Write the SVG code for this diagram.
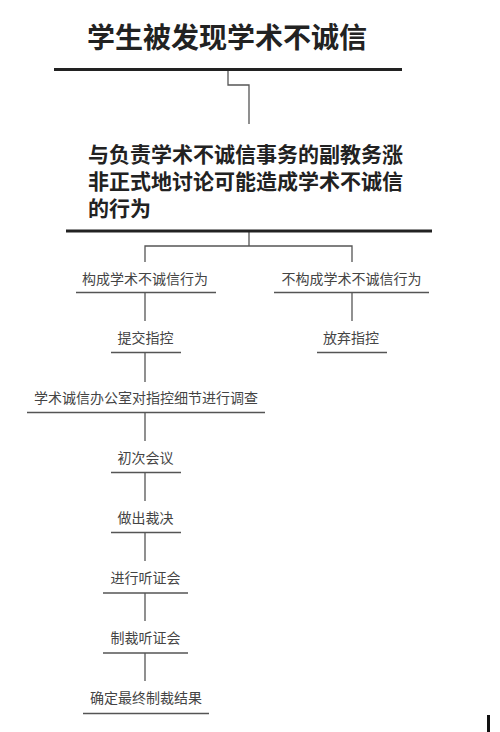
<svg xmlns="http://www.w3.org/2000/svg" width="500" height="732" viewBox="0 0 500 732">
<style>
text{font-family:"Noto Sans CJK SC","Noto Sans",sans-serif;dominant-baseline:central}
.big{font-size:28px;font-weight:bold;fill:#222}
.mid{font-size:21px;font-weight:bold;fill:#222}
.sm{font-size:14px;fill:#444;text-anchor:middle}
.bar{stroke:#222;stroke-width:3;fill:none}
.ul{stroke:#555;stroke-width:1.5;fill:none}
.c{stroke:#555;stroke-width:1.3;fill:none}
</style>
<rect width="500" height="732" fill="#fff"/>
<g id="connectors">
<path class="c" d="M228,70V85H249V124"/>
<path class="c" d="M249,231V246M145,262V246H352V262"/>
<path class="c" d="M352,293V321"/>
<path class="c" d="M145,293V321M145,353V382M145,413V441M145,473V501M145,533V561M145,593V621M145,653V681"/>
</g>
<g id="n0"><text class="big" x="87" y="36">学生被发现学术不诚信</text><line class="bar" x1="54" y1="69.5" x2="402" y2="69.5"/></g>
<g id="n1"><text class="mid"><tspan x="88" y="153">与负责学术不诚信事务的副教务涨</tspan><tspan x="88" y="180">非正式地讨论可能造成学术不诚信</tspan><tspan x="88" y="207">的行为</tspan></text><line class="bar" x1="66" y1="231" x2="432" y2="231"/></g>
<g id="n2"><text class="sm" x="145" y="277.5">构成学术不诚信行为</text><line class="ul" x1="76" y1="292.5" x2="216" y2="292.5"/></g>
<g id="n3"><text class="sm" x="351.5" y="277.5">不构成学术不诚信行为</text><line class="ul" x1="274" y1="292.5" x2="429" y2="292.5"/></g>
<g id="n4"><text class="sm" x="145.5" y="337">提交指控</text><line class="ul" x1="111" y1="352.5" x2="181" y2="352.5"/></g>
<g id="n5"><text class="sm" x="351" y="337">放弃指控</text><line class="ul" x1="317" y1="352.5" x2="387" y2="352.5"/></g>
<g id="n6"><text class="sm" x="146" y="397">学术诚信办公室对指控细节进行调查</text><line class="ul" x1="27" y1="412.5" x2="265" y2="412.5"/></g>
<g id="n7"><text class="sm" x="145.5" y="457">初次会议</text><line class="ul" x1="111" y1="472.5" x2="181" y2="472.5"/></g>
<g id="n8"><text class="sm" x="145.5" y="517">做出裁决</text><line class="ul" x1="111" y1="532.5" x2="181" y2="532.5"/></g>
<g id="n9"><text class="sm" x="145.5" y="577">进行听证会</text><line class="ul" x1="103" y1="593" x2="188" y2="593"/></g>
<g id="n10"><text class="sm" x="145.5" y="637">制裁听证会</text><line class="ul" x1="103" y1="653" x2="188" y2="653"/></g>
<g id="n11"><text class="sm" x="146" y="697">确定最终制裁结果</text><line class="ul" x1="83" y1="713.5" x2="209" y2="713.5"/></g>
<rect x="487" y="715" width="3" height="17" fill="#111"/>
</svg>
